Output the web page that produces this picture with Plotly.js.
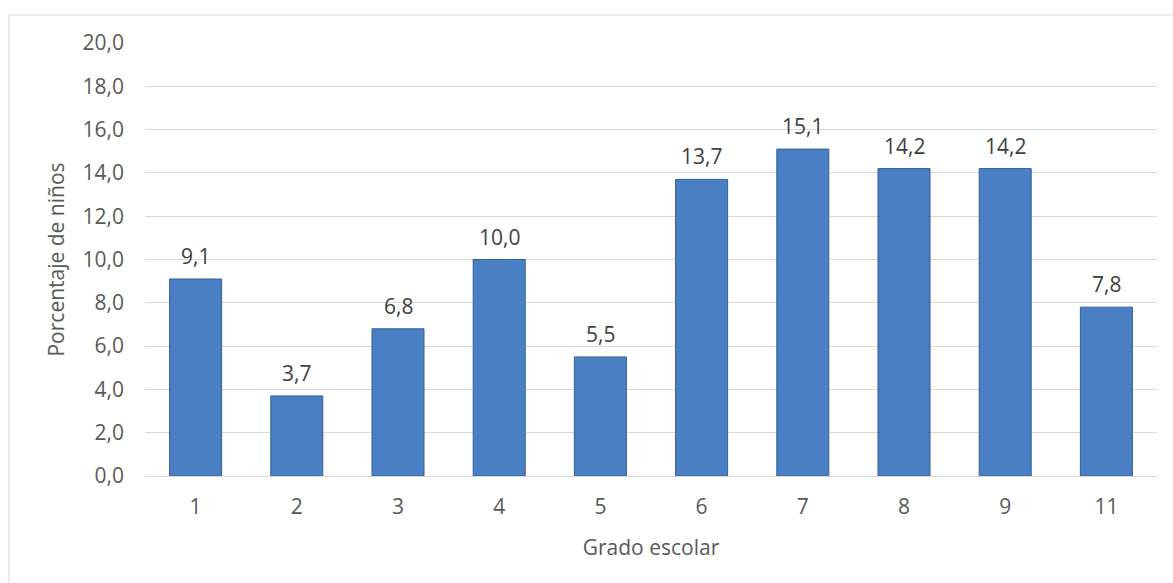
<!DOCTYPE html>
<html>
<head>
<meta charset="utf-8">
<script src="https://cdn.plot.ly/plotly-3.0.1.min.js"></script>
<style>
html,body{margin:0;padding:0;background:#fff;}
#chart{width:1173px;height:583px;}
</style>
</head>
<body>
<div id="chart"></div>
<script>
const grades = ["1","2","3","4","5","6","7","8","9","11"];
const percent = [9.1, 3.7, 6.8, 10.0, 5.5, 13.7, 15.1, 14.2, 14.2, 7.8];
const xTitle = "Grado escolar";
const yTitle = "Porcentaje de niños";

const fam = "Open Sans, Liberation Sans, sans-serif";
const tickFont = {family: fam, size: 21, color: "#595959"};
const titleFont = {family: fam, size: 21, color: "#595959"};
const labelFont = {family: fam, size: 21, color: "#404040"};

const trace = {
  type: "bar",
  x: grades,
  y: percent,
  marker: {color: "#4a7fc4", line: {color: "#345f96", width: 1}},
  hoverinfo: "x+y"
};

// category axis: annotation x is the category index
const labels = grades.map((g, i) => ({
  x: i, y: percent[i], xref: "x", yref: "y",
  text: percent[i].toFixed(1).replace(".", ","),
  showarrow: false, yanchor: "middle", yshift: 23,
  font: labelFont
}));

const layout = {
  width: 1173, height: 583,
  margin: {l: 145, r: 16, t: 43, b: 107},
  paper_bgcolor: "#ffffff",
  plot_bgcolor: "#ffffff",
  separators: ",.",
  bargap: 0.486,
  showlegend: false,
  font: tickFont,
  xaxis: {
    type: "category",
    showgrid: false,
    showline: true,
    linecolor: "#d9d9d9",
    linewidth: 1,
    ticks: "",
    ticklabelstandoff: 12,
    tickfont: tickFont,
    title: {text: xTitle, font: titleFont, standoff: 21},
    automargin: true
  },
  yaxis: {
    range: [0, 20],
    dtick: 2,
    tickformat: ".1f",
    showgrid: true,
    gridcolor: "#d9d9d9",
    gridwidth: 1,
    zeroline: true,
    zerolinecolor: "#d9d9d9",
    showline: false,
    ticks: "",
    ticklabelstandoff: 20,
    tickfont: tickFont,
    title: {text: yTitle, font: titleFont, standoff: 12},
    automargin: false
  },
  annotations: labels,
  shapes: [{
    type: "rect", xref: "paper", yref: "paper",
    x0: -0.1344, x1: 1.03, y0: -0.3, y1: 1.0647,
    line: {color: "#d9d9d9", width: 1}, fillcolor: "rgba(0,0,0,0)", layer: "below"
  }]
};

Plotly.newPlot("chart", [trace], layout, {displayModeBar: false, staticPlot: true});
</script>
</body>
</html>
